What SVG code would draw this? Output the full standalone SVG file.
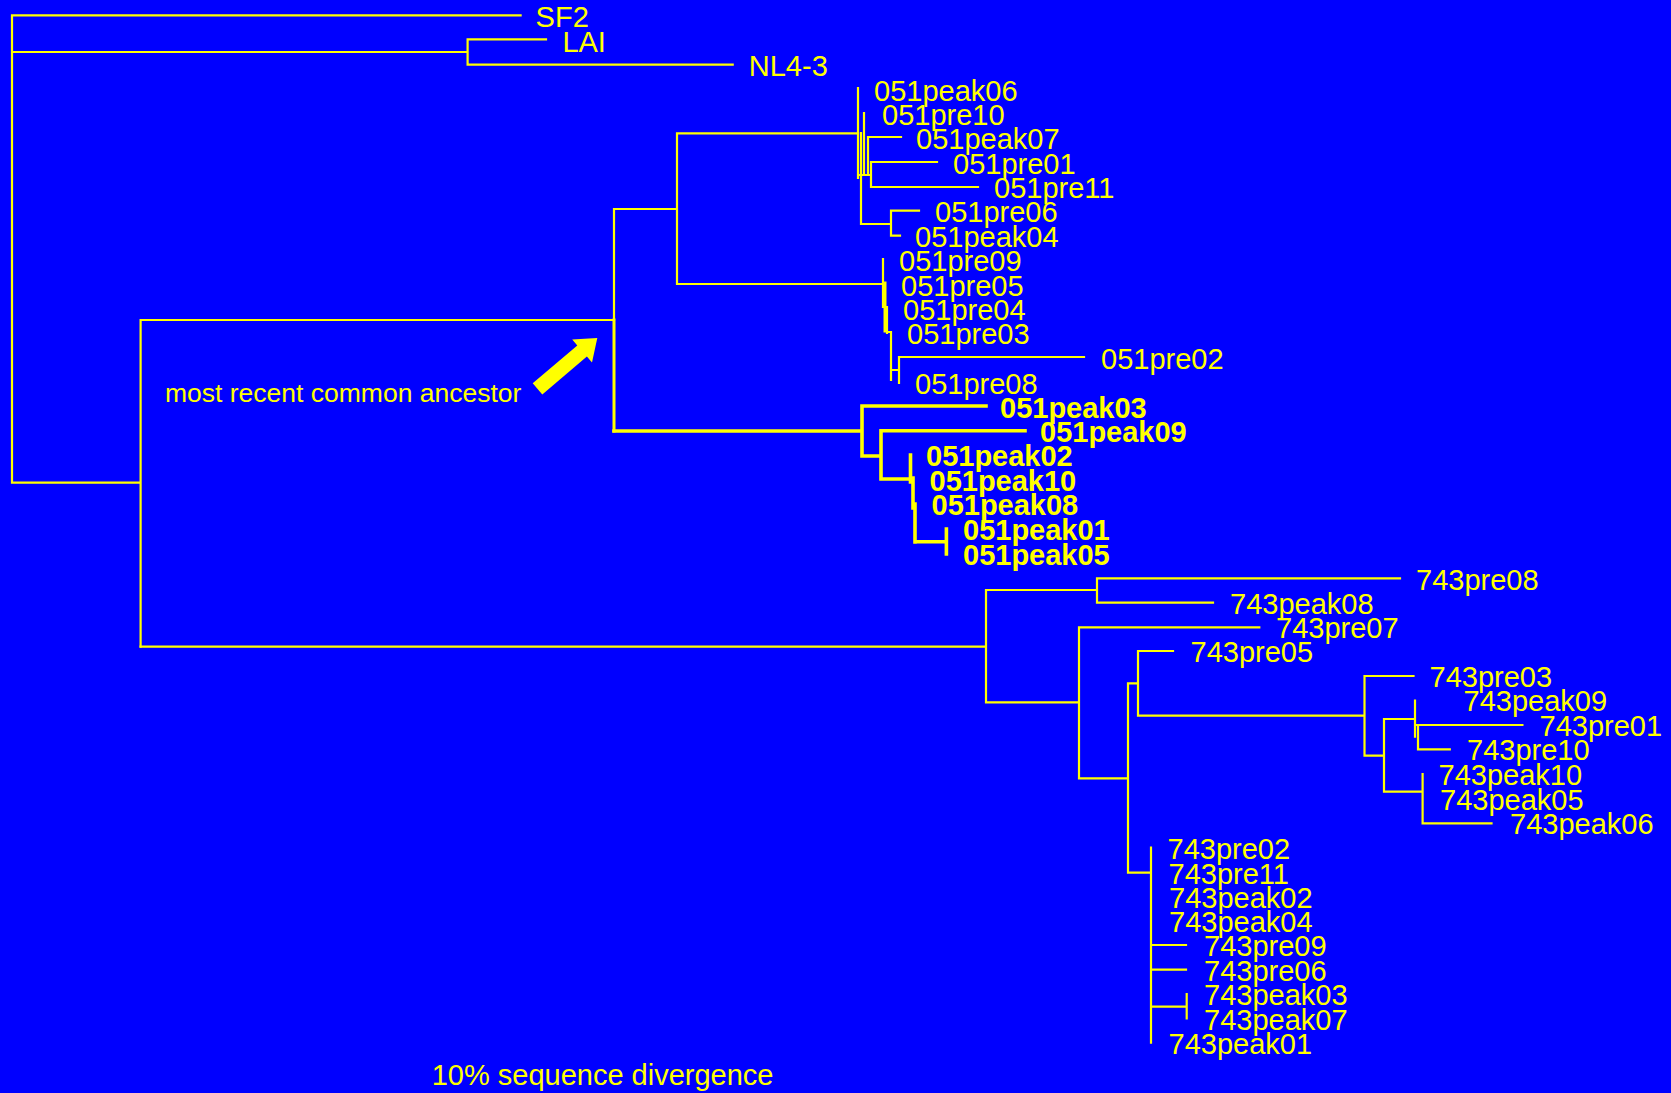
<svg xmlns="http://www.w3.org/2000/svg" width="1671" height="1093" viewBox="0 0 1671 1093">
<style>
.br{fill:none;stroke:#FFFF00;stroke-width:2.2;stroke-linecap:square}
.bb{fill:none;stroke:#FFFF00;stroke-width:3.6;stroke-linecap:square}
.lb{fill:#FFFF00;font-family:"Liberation Sans",Arial,Helvetica,sans-serif;font-size:29px}
.bd{font-weight:bold}
.an{fill:#FFFF00;font-family:"Liberation Sans",Arial,Helvetica,sans-serif;font-size:26.5px}
</style>
<rect x="0" y="0" width="1671" height="1093" fill="#0000FF"/>
<g id="connectors">
<path class="br" d="M12 15.3V482.7M12 15.3H520.6M12 52H467.6M467.6 39.3V64.7M467.6 39.3H546M467.6 64.7H732.7M12 482.7H140.6M140.6 320V646.7M140.6 320H614M614 209V320M614 209H677M677 133.3V284M677 133.3H858M677 284H883"/>
<path class="br" d="M858 88V178M861 133V224M861 224H891M864 113V175M858 175H871M868 137V174M868 137H901M871 162V187M871 162H937M871 187H978M891 210.7V235.7M891 210.7H919M891 235.7H900"/>
<path class="br" d="M883 259V307M887 308V333M883 307H887M891 332V380M887 332H891M891 370H899M899 357V383M899 357H1084"/>
<path class="br" style="stroke-width:3" d="M885 283V331"/>
<path class="bb" style="stroke-width:3" d="M614 320V431"/>
<path class="bb" d="M614 431H862M862 406V456M862 406H986M862 456H881M881 430.7V479M881 430.7H1025M881 479H910M910.5 455V482M913 478V508M915 504V542M915 541.7H946.4M946.4 529V554"/>
<path class="br" d="M140.6 646.7H986M986 590V702.3M986 590H1097M1097 578.3V602.7M1097 578.3H1400M1097 602.7H1213M986 702.3H1079M1079 627.3V778.3M1079 627.3H1259.3M1079 778.3H1128M1128 683.3V872.7M1128 683.3H1138M1138 651V715.7M1138 651H1173M1138 715.7H1364.5M1364.5 676V755.7M1364.5 676H1413.5M1364.5 755.7H1384M1384 719V791.7M1384 719H1415M1415 700.7V736.7M1415 725H1418M1418 725V749.3M1418 725H1522.4M1418 749.3H1449.8M1384 791.7H1422.6M1422.6 774V823.3M1422.6 823.3H1491.5M1128 872.7H1151M1151 847.7V1042.7M1151 945H1186M1151 969.7H1186M1151 1006.7H1186.7M1186.7 994V1018.3"/>
</g>
<g id="leaf-SF2"><text class="lb" x="535.6" y="27.3">SF2</text></g>
<g id="leaf-LAI"><text class="lb" x="562.4" y="51.7">LAI</text></g>
<g id="leaf-NL4-3"><text class="lb" x="748.8" y="75.7">NL4-3</text></g>
<g id="leaf-051peak06"><text class="lb" x="874" y="100.5">051peak06</text></g>
<g id="leaf-051pre10"><text class="lb" x="882" y="124.5">051pre10</text></g>
<g id="leaf-051peak07"><text class="lb" x="916" y="149">051peak07</text></g>
<g id="leaf-051pre01"><text class="lb" x="953" y="173.5">051pre01</text></g>
<g id="leaf-051pre11"><text class="lb" x="994" y="198">051pre11</text></g>
<g id="leaf-051pre06"><text class="lb" x="935" y="222">051pre06</text></g>
<g id="leaf-051peak04"><text class="lb" x="915" y="246.5">051peak04</text></g>
<g id="leaf-051pre09"><text class="lb" x="899" y="271">051pre09</text></g>
<g id="leaf-051pre05"><text class="lb" x="901" y="295.5">051pre05</text></g>
<g id="leaf-051pre04"><text class="lb" x="903" y="320">051pre04</text></g>
<g id="leaf-051pre03"><text class="lb" x="907" y="344">051pre03</text></g>
<g id="leaf-051pre02"><text class="lb" x="1101" y="369">051pre02</text></g>
<g id="leaf-051pre08"><text class="lb" x="915" y="393.5">051pre08</text></g>
<g id="leaf-051peak03"><text class="lb bd" x="1000" y="417.5">051peak03</text></g>
<g id="leaf-051peak09"><text class="lb bd" x="1040" y="442">051peak09</text></g>
<g id="leaf-051peak02"><text class="lb bd" x="926" y="466">051peak02</text></g>
<g id="leaf-051peak10"><text class="lb bd" x="929.5" y="490.5">051peak10</text></g>
<g id="leaf-051peak08"><text class="lb bd" x="931.5" y="515">051peak08</text></g>
<g id="leaf-051peak01"><text class="lb bd" x="963" y="540">051peak01</text></g>
<g id="leaf-051peak05"><text class="lb bd" x="963" y="564.5">051peak05</text></g>
<g id="leaf-743pre08"><text class="lb" x="1416" y="590">743pre08</text></g>
<g id="leaf-743peak08"><text class="lb" x="1230" y="613.5">743peak08</text></g>
<g id="leaf-743pre07"><text class="lb" x="1276" y="637.5">743pre07</text></g>
<g id="leaf-743pre05"><text class="lb" x="1190.5" y="662">743pre05</text></g>
<g id="leaf-743pre03"><text class="lb" x="1429.5" y="686.5">743pre03</text></g>
<g id="leaf-743peak09"><text class="lb" x="1463.5" y="711">743peak09</text></g>
<g id="leaf-743pre01"><text class="lb" x="1539.5" y="735.5">743pre01</text></g>
<g id="leaf-743pre10"><text class="lb" x="1467" y="760">743pre10</text></g>
<g id="leaf-743peak10"><text class="lb" x="1438.5" y="785">743peak10</text></g>
<g id="leaf-743peak05"><text class="lb" x="1440" y="809.5">743peak05</text></g>
<g id="leaf-743peak06"><text class="lb" x="1510" y="834">743peak06</text></g>
<g id="leaf-743pre02"><text class="lb" x="1167.5" y="859">743pre02</text></g>
<g id="leaf-743pre11"><text class="lb" x="1168.5" y="883.5">743pre11</text></g>
<g id="leaf-743peak02"><text class="lb" x="1169" y="907.5">743peak02</text></g>
<g id="leaf-743peak04"><text class="lb" x="1169" y="932">743peak04</text></g>
<g id="leaf-743pre09"><text class="lb" x="1204" y="956">743pre09</text></g>
<g id="leaf-743pre06"><text class="lb" x="1204" y="980.5">743pre06</text></g>
<g id="leaf-743peak03"><text class="lb" x="1204" y="1005">743peak03</text></g>
<g id="leaf-743peak07"><text class="lb" x="1204" y="1029.5">743peak07</text></g>
<g id="leaf-743peak01"><text class="lb" x="1168.5" y="1054">743peak01</text></g>
<g id="mrca-annotation">
<text class="an" x="165" y="401.7">most recent common ancestor</text>
<polygon fill="#FFFF00" points="532.7,383.2 577.3,345.4 572.2,339.4 597.3,338 592,362.6 586.9,356.6 542.3,394.4"/>
</g>
<g id="scale-label"><text class="lb" x="431.7" y="1085">10% sequence divergence</text></g>
</svg>
